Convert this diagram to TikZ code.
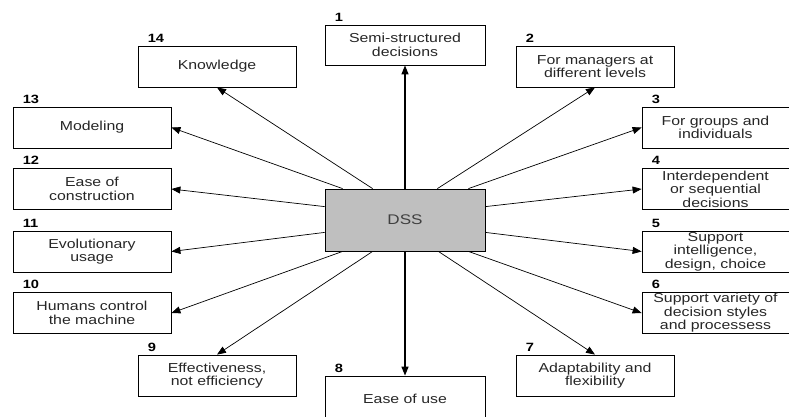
\documentclass[tikz,border=0pt]{standalone}
\usepackage{fontspec}
\setmainfont{Liberation Sans}[FakeStretch=1.22]
\usetikzlibrary{arrows.meta}

\tikzset{
  box/.style={draw, line width=0.8pt, minimum width=158, minimum height=41,
    align=center, inner sep=1pt, text=black!85,
    font=\fontsize{13}{13.5}\selectfont},
  num/.style={label={[anchor=south west, xshift=9, yshift=2, inner sep=1pt,
    font=\bfseries\fontsize{12}{12}\selectfont]north west:#1}},
  arr/.style={-{Triangle[length=9pt,width=7pt]}, line width=0.7pt},
}

\begin{document}
\begin{tikzpicture}[x=1pt, y=-1pt]

  \useasboundingbox (0,0) rectangle (789,416);
  \clip (0,0) rectangle (789,416);

  \node[draw, line width=0.8pt, fill=gray!50, minimum width=160, minimum height=62,
    text=black!75, font=\fontsize{14}{14}\selectfont] (dss) at (405,220) {DSS};

  % upper half
  \node[box, num=1, minimum width=160, minimum height=40] (b1) at (405,45) {Semi-structured\\decisions};
  \node[box, num=2] (b2) at (595,66.5) {For managers at\\different levels};
  \node[box, num=3, minimum width=147] (b3) at (715.5,127.5) {For groups and\\individuals};
  \node[box, num=4, minimum width=147] (b4) at (715.5,189) {Interdependent\\or sequential\\decisions};
  \node[box, num=5, minimum width=147] (b5) at (715.5,251.5) {Support\\intelligence,\\design, choice};
  \node[box, num=6, minimum width=147] (b6) at (715.5,313) {Support variety of\\decision styles\\and processess};
  \node[box, num=7] (b7) at (595,375.5) {Adaptability and\\flexibility};
  \node[box, num=8, minimum width=160, minimum height=46] (b8) at (405,399) {Ease of use};
  \node[box, num=9] (b9) at (217,375.5) {Effectiveness,\\not efficiency};
  \node[box, num=10] (b10) at (92,313) {Humans control\\the machine};
  \node[box, num=11] (b11) at (92,251.5) {Evolutionary\\usage};
  \node[box, num=12] (b12) at (92,189) {Ease of\\construction};
  \node[box, num=13] (b13) at (92,127.5) {Modeling};
  \node[box, num=14] (b14) at (217,66.5) {Knowledge};

  \draw[arr, line width=1.3pt] (dss.north) -- (b1.south);
  \draw[arr] ([xshift=-48]dss.north east) -- (b2.south);
  \draw[arr] ([xshift=-17]dss.north east) -- (b3.west);
  \draw[arr] ([yshift=-18]dss.north east) -- (b4.west);
  \draw[arr] ([yshift=19]dss.south east) -- (b5.west);
  \draw[arr] ([xshift=-17]dss.south east) -- (b6.west);
  \draw[arr] ([xshift=-47]dss.south east) -- (b7.north);
  \draw[arr, line width=1.3pt] (dss.south) -- (b8.north);
  \draw[arr] ([xshift=48]dss.south west) -- (b9.north);
  \draw[arr] ([xshift=18]dss.south west) -- (b10.east);
  \draw[arr] ([yshift=19]dss.south west) -- (b11.east);
  \draw[arr] ([yshift=-18]dss.north west) -- (b12.east);
  \draw[arr] ([xshift=18]dss.north west) -- (b13.east);
  \draw[arr] ([xshift=48]dss.north west) -- (b14.south);

\end{tikzpicture}
\end{document}
